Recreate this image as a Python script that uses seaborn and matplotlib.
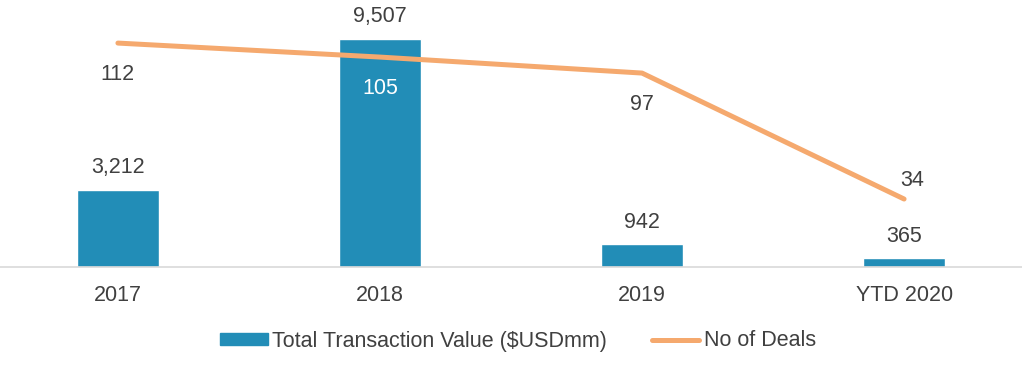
import numpy as np
import pandas as pd
import matplotlib
matplotlib.use("Agg")
import matplotlib.pyplot as plt
import matplotlib.patches as mpatches
from matplotlib.lines import Line2D
import seaborn as sns

# data
years = ["2017", "2018", "2019", "YTD 2020"]
transaction_value = [3212, 9507, 942, 365]
no_of_deals = [112, 105, 97, 34]

bar_color = "#228DB7"
line_color = "#F5A96E"
text_color = "#404040"
fs = 15.5

sns.set_style("white")
plt.rcParams["font.family"] = ["Liberation Sans", "DejaVu Sans"]

df = pd.DataFrame({"Year": years, "Value": transaction_value, "Deals": no_of_deals})

fig, ax = plt.subplots(figsize=(10.22, 3.66), dpi=100)
fig.subplots_adjust(left=0, right=1, bottom=0.2705, top=0.926)

sns.barplot(data=df, x="Year", y="Value", color=bar_color, width=0.31,
            saturation=1, ax=ax)
ax.set_ylim(0, 10000)
ax.set_xlim(-0.45, 3.45)

ax2 = ax.twinx()
sns.lineplot(x=np.arange(len(years)), y=df["Deals"], color=line_color,
             linewidth=3.6, ax=ax2, solid_capstyle="round")
ax2.set_ylim(0, 120)
ax2.set_xlim(-0.45, 3.45)

# bar value labels
for i, v in enumerate(transaction_value):
    ax.annotate(f"{v:,}", (i, v), xytext=(0, 16), textcoords="offset points",
                ha="center", va="center", fontsize=fs, color=text_color)

# line value labels (below the line, last one above)
for i, v in enumerate(no_of_deals):
    last = i == len(no_of_deals) - 1
    dy = 13.5 if last else -22.5
    dx = 6 if last else 0
    col = "white" if years[i] == "2018" else text_color
    ax2.annotate(f"{v}", (i, v), xytext=(dx, dy), textcoords="offset points",
                 ha="center", va="center", fontsize=fs, color=col)

for a in (ax, ax2):
    for side in ["top", "left", "right"]:
        a.spines[side].set_visible(False)
    a.set_yticks([])
    a.set_ylabel("")
    a.set_xlabel("")
ax2.spines["bottom"].set_visible(False)
ax.spines["bottom"].set_color("#D9D9D9")
ax.spines["bottom"].set_linewidth(1.2)

ax.set_xticks(range(len(years)))
ax.set_xticklabels(years)
ax.tick_params(axis="x", length=0, pad=13, labelsize=fs, labelcolor=text_color)
ax2.tick_params(axis="x", length=0, labelbottom=False)

handles = [mpatches.Patch(color=bar_color),
           Line2D([], [], color=line_color, linewidth=3.6)]
fig.legend(handles, ["Total Transaction Value ($USDmm)", "No of Deals"],
           loc="center", bbox_to_anchor=(0.507, 1 - 341 / 366), ncol=2,
           frameon=False, fontsize=fs, labelcolor=text_color,
           handlelength=2.2, handleheight=0.45, handletextpad=0.2,
           columnspacing=2.1)

fig.savefig("out.png", dpi=100)
